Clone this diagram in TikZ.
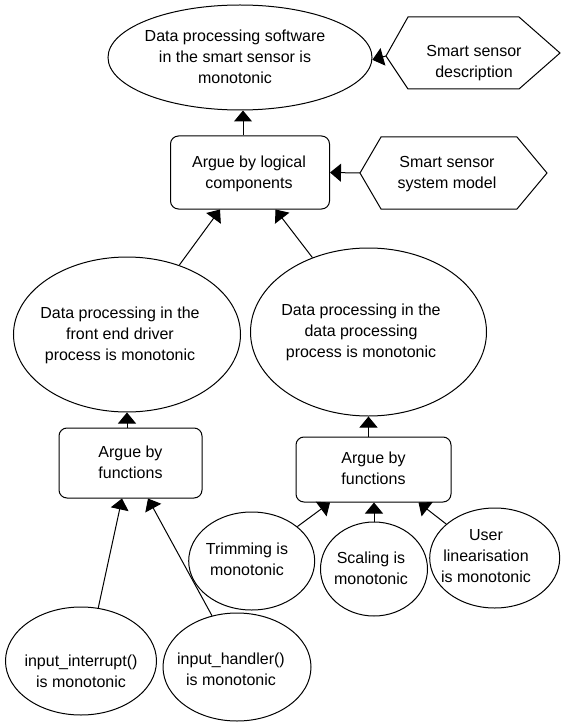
\documentclass[tikz,border=0pt]{standalone}
\usepackage{fontspec}
\setmainfont{Liberation Sans}
\usetikzlibrary{shapes.geometric,arrows.meta}
\begin{document}
\begin{tikzpicture}[x=1pt,y=-1pt,
  shapeline/.style={draw=black, line width=1pt},
  claim/.style={ellipse, shapeline, inner sep=0pt},
  strategy/.style={rectangle, rounded corners=8pt, shapeline, inner sep=0pt},
  txt/.style={font=\fontsize{16}{21}\selectfont, align=center, inner sep=0pt},
  arr/.style={line width=1pt, -{Triangle[width=18pt,length=11pt]}}
]
\useasboundingbox (0,0) rectangle (561,722);

% goal and strategy shapes
\node[claim, minimum width=264pt, minimum height=105pt] (e1) at (240,57.5) {};
\node[strategy, minimum width=159pt, minimum height=73pt] (b1) at (250,172.5) {};
\node[claim, minimum width=227pt, minimum height=155pt] (l2) at (127,334.5) {};
\node[claim, minimum width=236pt, minimum height=168pt] (r2) at (368.5,332) {};
\node[strategy, minimum width=143pt, minimum height=70pt] (b2) at (130.5,463) {};
\node[strategy, minimum width=155pt, minimum height=65pt] (b3) at (373.5,469.5) {};
\node[claim, minimum width=151pt, minimum height=108pt] (ii) at (81,661) {};
\node[claim, minimum width=148pt, minimum height=108pt] (ih) at (237,667) {};
\node[claim, minimum width=126pt, minimum height=98pt] (tr) at (251.7,561) {};
\node[claim, minimum width=107pt, minimum height=94pt] (sc) at (374,569) {};
\node[claim, minimum width=130pt, minimum height=100pt] (us) at (494.7,558) {};

% context hexagons
\draw[shapeline] (386,56) coordinate (h1w) -- (408,17) -- (519,17) -- (560,53) -- (519,89) -- (408,89) -- cycle;
\draw[shapeline] (360,173) coordinate (h2w) -- (381,137) -- (517,137) -- (547,173) -- (517,209) -- (381,209) -- cycle;

% texts
\node[txt] (te1) at (235,57.2) {Data processing software\\in the smart sensor is\\monotonic};
\node[txt] (th1) at (474,63.4) {Smart sensor\\description};
\node[txt] (tb1) at (249,173.9) {Argue by logical\\components};
\node[txt] (th2) at (447,173.9) {Smart sensor\\system model};
\node[txt] (tl2) at (120,334.9) {Data processing in the\\front end driver\\process is monotonic};
\node[txt] (tr2) at (361,331.9) {Data processing in the\\data processing\\process is monotonic};
\node[txt] (tb2) at (130.5,462.5) {Argue by\\functions};
\node[txt] (tb3) at (373.5,468.5) {Argue by\\functions};
\node[txt] (tii) at (81,671) {input\_interrupt()\\is monotonic};
\node[txt] (tih) at (231,669.7) {input\_handler()\\is monotonic};
\node[txt] (ttr) at (247,559.7) {Trimming is\\monotonic};
\node[txt] (tsc) at (371,568.7) {Scaling is\\monotonic};
\node[txt] (tus) at (486,556.2) {User\\linearisation\\is monotonic};

% connectors
\coordinate (a1) at ([xshift=-7pt]b1.north);
\draw[arr] (h1w) -- (e1.-1);
\draw[arr] (h2w) -- (b1.east);
\draw[arr] (a1) -- (a1 |- e1.south);
\draw[arr] (l2.53) -- ([xshift=-30pt]b1.south);
\draw[arr] (r2.127) -- ([xshift=25.5pt]b1.south);
\draw[arr] (l2.south |- b2.north) -- (l2.south);
\draw[arr] (r2.south |- b3.north) -- (r2.south);
\draw[arr] (ii.72) -- ([xshift=-8.5pt]b2.south);
\draw[arr] (ih.116) -- ([xshift=17.5pt]b2.south);
\draw[arr] (tr.37) -- ([xshift=-43.5pt]b3.south);
\draw[arr] (sc.north) -- (sc.north |- b3.south);
\draw[arr] (us.145) -- ([xshift=45pt]b3.south);
\end{tikzpicture}
\end{document}
